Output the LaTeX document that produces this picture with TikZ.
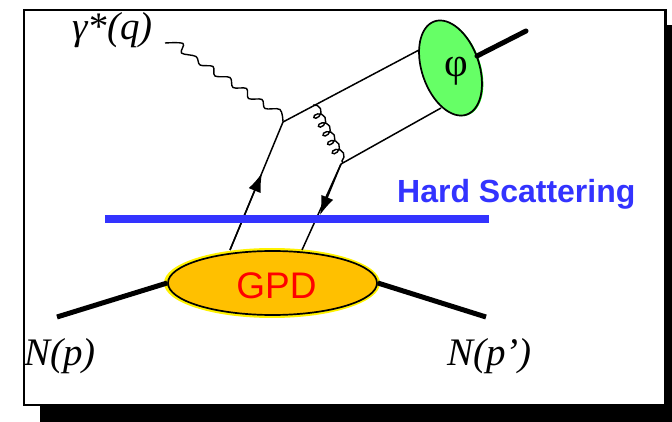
\documentclass[tikz,border=0pt]{standalone}
\usepackage{fontspec}
\setmainfont{Liberation Serif}
\setsansfont{Liberation Sans}
\usetikzlibrary{arrows.meta,decorations.pathmorphing,shapes.geometric}
\definecolor{hardblue}{RGB}{51,51,255}
\definecolor{gpdfill}{RGB}{255,192,0}
\definecolor{phifill}{RGB}{102,255,102}
\tikzset{
  quark/.style={draw=black,line width=1.5pt},
  hadron/.style={draw=black,line width=5pt},
  boson/.style={draw=black,line width=1.4pt,smooth,tension=.55},
  gluon/.style={draw=black,line width=1.4pt,decorate,decoration={coil,aspect=.8,amplitude=5pt,segment length=10pt}},
  tip/.style={-{Latex[length=19pt,width=13pt]}},
  maths/.style={inner sep=0pt,font=\fontsize{39}{39}\selectfont\itshape},
  blob/.style={ellipse,draw=black,line width=1.7pt,inner sep=0pt}
}
\begin{document}
\begin{tikzpicture}[x=1pt,y=-1pt]
\useasboundingbox (0,0) rectangle (672,422);
\fill[white] (0,0) rectangle (672,422);
\fill[black] (40,25) rectangle (672,422);
\draw[black,line width=2.4pt,fill=white] (24,10) rectangle (665.5,405);
% halos
\node[ellipse,fill=yellow,inner sep=0pt,minimum width=216pt,minimum height=70pt] at (272,283) {};
\node[ellipse,fill=green!85!black,inner sep=0pt,minimum width=99pt,minimum height=58pt,rotate=109] at (451.5,68.5) {};
% blobs
\node[blob,fill=gpdfill,minimum width=209pt,minimum height=64pt] (G) at (272.5,283) {};
\node[blob,fill=phifill,minimum width=98.6pt,minimum height=57.2pt,rotate=109] (F) at (450.5,68) {};
\node[inner sep=0pt,font=\fontsize{41}{41}\selectfont] (phi) at (456.5,71) {φ};
\node[inner sep=0pt,text=red,font=\sffamily\fontsize{37}{37}\selectfont] (gpd) at (276.5,286) {GPD};
% vertices and free ends
\coordinate (A) at (283,122);
\coordinate (B) at (341,164);
\coordinate (Fa) at (419,50);
\coordinate (Fb) at (441,108);
\coordinate (qa) at (230,250);
\coordinate (qb) at (302,250);
\coordinate (ua) at (262,173);
\coordinate (da) at (320,215);
\coordinate (gs) at (313,105);
\coordinate (ge) at (343,163);
\coordinate (outF) at (477,56);
\coordinate (outE) at (526,31);
\coordinate (pin) at (57,317);
\coordinate (pout) at (486,317);
% quark lines
\draw[quark] (A) -- (Fa);
\draw[quark] (B) -- (Fb);
\draw[quark] (A) -- (qa);
\draw[quark] (B) -- (qb);
\draw[quark,tip] (qa) -- (ua);
\draw[quark,tip] (B) -- (da);
% bosons
\draw[boson] plot coordinates {(165,43) (183,43.5) (181.5,53) (196,56.5) (200,65) (213,66.5) (215,76) (230,77.5) (233,87.5) (246.5,88.5) (248.5,98.5) (262,99.5) (265,108.5) (280,109.5) (283,122)};
\draw[gluon] (gs) -- (ge);
% hadrons
\draw[hadron] (pin) -- (G.west);
\draw[hadron] (G.east) -- (pout);
\draw[hadron,line cap=round] (outF) -- (outE);
% cut line
\fill[hardblue] (105,215) rectangle (489,223);
% labels
\node[inner sep=0pt,anchor=base west,text=hardblue,font=\sffamily\bfseries\fontsize{32}{32}\selectfont] (hs) at (397,203) {Hard Scattering};
\node[maths,anchor=base west] (lg) at (72,40) {γ*(q)};
\node[maths,anchor=base west] (ln) at (24,365) {N(p)};
\node[maths,anchor=base west] (lp) at (447,365) {N(p’)};
\end{tikzpicture}
\end{document}
